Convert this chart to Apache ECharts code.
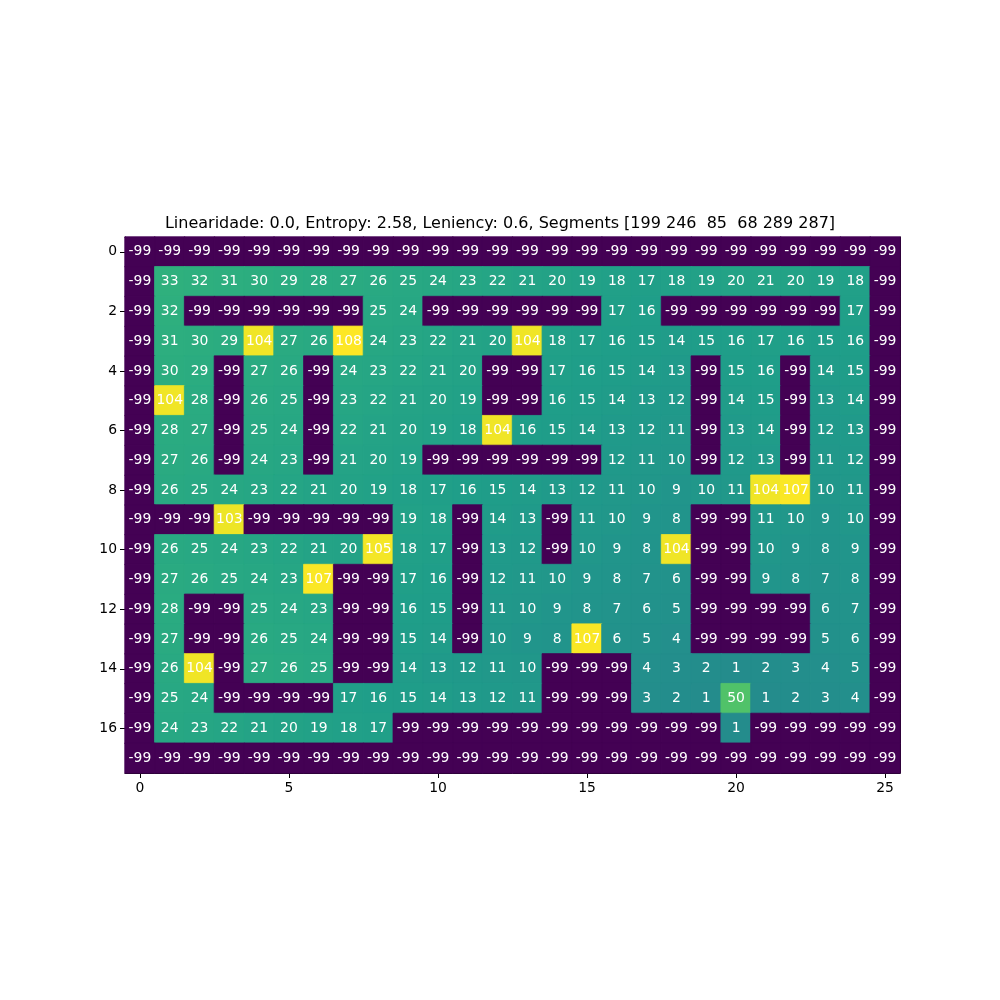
<!DOCTYPE html>
<html>
<head>
<meta charset="utf-8">
<script src="https://cdn.jsdelivr.net/npm/echarts@6/dist/echarts.min.js"></script>
<style>html,body{margin:0;padding:0;background:#fff}#c{width:1000px;height:1000px}</style>
</head>
<body>
<div id="c"></div>
<script>
const titleText = 'Linearidade: 0.0, Entropy: 2.58, Leniency: 0.6, Segments [199 246  85  68 289 287]';
const xCategories = Array.from({length: 26}, (_, i) => String(i));
const yCategories = Array.from({length: 18}, (_, i) => String(i));
const xTickStep = 5;
const yTickStep = 2;
const vMin = -99, vMax = 108;

const row00 = [-99,-99,-99,-99,-99,-99,-99,-99,-99,-99,-99,-99,-99,-99,-99,-99,-99,-99,-99,-99,-99,-99,-99,-99,-99,-99];
const row01 = [-99,33,32,31,30,29,28,27,26,25,24,23,22,21,20,19,18,17,18,19,20,21,20,19,18,-99];
const row02 = [-99,32,-99,-99,-99,-99,-99,-99,25,24,-99,-99,-99,-99,-99,-99,17,16,-99,-99,-99,-99,-99,-99,17,-99];
const row03 = [-99,31,30,29,104,27,26,108,24,23,22,21,20,104,18,17,16,15,14,15,16,17,16,15,16,-99];
const row04 = [-99,30,29,-99,27,26,-99,24,23,22,21,20,-99,-99,17,16,15,14,13,-99,15,16,-99,14,15,-99];
const row05 = [-99,104,28,-99,26,25,-99,23,22,21,20,19,-99,-99,16,15,14,13,12,-99,14,15,-99,13,14,-99];
const row06 = [-99,28,27,-99,25,24,-99,22,21,20,19,18,104,16,15,14,13,12,11,-99,13,14,-99,12,13,-99];
const row07 = [-99,27,26,-99,24,23,-99,21,20,19,-99,-99,-99,-99,-99,-99,12,11,10,-99,12,13,-99,11,12,-99];
const row08 = [-99,26,25,24,23,22,21,20,19,18,17,16,15,14,13,12,11,10,9,10,11,104,107,10,11,-99];
const row09 = [-99,-99,-99,103,-99,-99,-99,-99,-99,19,18,-99,14,13,-99,11,10,9,8,-99,-99,11,10,9,10,-99];
const row10 = [-99,26,25,24,23,22,21,20,105,18,17,-99,13,12,-99,10,9,8,104,-99,-99,10,9,8,9,-99];
const row11 = [-99,27,26,25,24,23,107,-99,-99,17,16,-99,12,11,10,9,8,7,6,-99,-99,9,8,7,8,-99];
const row12 = [-99,28,-99,-99,25,24,23,-99,-99,16,15,-99,11,10,9,8,7,6,5,-99,-99,-99,-99,6,7,-99];
const row13 = [-99,27,-99,-99,26,25,24,-99,-99,15,14,-99,10,9,8,107,6,5,4,-99,-99,-99,-99,5,6,-99];
const row14 = [-99,26,104,-99,27,26,25,-99,-99,14,13,12,11,10,-99,-99,-99,4,3,2,1,2,3,4,5,-99];
const row15 = [-99,25,24,-99,-99,-99,-99,17,16,15,14,13,12,11,-99,-99,-99,3,2,1,50,1,2,3,4,-99];
const row16 = [-99,24,23,22,21,20,19,18,17,-99,-99,-99,-99,-99,-99,-99,-99,-99,-99,-99,1,-99,-99,-99,-99,-99];
const row17 = [-99,-99,-99,-99,-99,-99,-99,-99,-99,-99,-99,-99,-99,-99,-99,-99,-99,-99,-99,-99,-99,-99,-99,-99,-99,-99];

const rows = [row00,row01,row02,row03,row04,row05,row06,row07,row08,row09,row10,row11,row12,row13,row14,row15,row16,row17];

const viridis = ['#440154','#482878','#3e4989','#31688e','#26828e','#1f9e89','#35b779','#6ece58','#b5de2b','#fde725'];
function colorFor(v) {
  const t = Math.max(0, Math.min(1, (v - vMin) / (vMax - vMin)));
  const pos = t * (viridis.length - 1);
  const i = Math.min(Math.floor(pos), viridis.length - 2);
  const f = pos - i;
  const a = viridis[i], b = viridis[i + 1];
  const ch = (h, k) => parseInt(h.substr(1 + 2 * k, 2), 16);
  const c = [0, 1, 2].map(k => Math.round(ch(a, k) + (ch(b, k) - ch(a, k)) * f));
  return 'rgb(' + c.join(',') + ')';
}

const data = [];
rows.forEach((r, y) => r.forEach((v, x) => {
  const col = colorFor(v);
  data.push({value: [x, y, v], itemStyle: {color: col, borderColor: col, borderWidth: 0.8}});
}));

const FONT = 'DejaVu Sans';

const chart = echarts.init(document.getElementById('c'), null, {renderer: 'canvas'});
chart.setOption({
  backgroundColor: '#ffffff',
  animation: false,
  title: {
    text: titleText,
    left: 'center',
    top: 211,
    textStyle: {fontFamily: FONT, fontSize: 16, fontWeight: 'normal', color: '#000'}
  },
  grid: {left: 125, right: 100, top: 237, bottom: 227, containLabel: false},
  xAxis: [{
    type: 'category',
    data: xCategories,
    position: 'bottom',
    axisLine: {show: true, onZero: false, lineStyle: {color: '#000', width: 1}},
    axisTick: {show: true, alignWithLabel: true, length: 5, interval: (i) => i % xTickStep === 0, lineStyle: {color: '#000'}},
    axisLabel: {show: true, interval: (i) => i % xTickStep === 0, margin: 8, fontFamily: FONT, fontSize: 13.9, color: '#000'},
    splitLine: {show: false}
  }, {
    type: 'category',
    data: xCategories,
    position: 'top',
    axisLine: {show: true, onZero: false, lineStyle: {color: '#000', width: 1}},
    axisTick: {show: false},
    axisLabel: {show: false},
    splitLine: {show: false}
  }],
  yAxis: [{
    type: 'category',
    data: yCategories,
    inverse: true,
    position: 'left',
    axisLine: {show: true, onZero: false, lineStyle: {color: '#000', width: 1}},
    axisTick: {show: true, alignWithLabel: true, length: 5, interval: (i) => i % yTickStep === 0, lineStyle: {color: '#000'}},
    axisLabel: {show: true, interval: (i) => i % yTickStep === 0, margin: 8, fontFamily: FONT, fontSize: 13.9, color: '#000'},
    splitLine: {show: false}
  }, {
    type: 'category',
    data: yCategories,
    inverse: true,
    position: 'right',
    axisLine: {show: true, onZero: false, lineStyle: {color: '#000', width: 1}},
    axisTick: {show: false},
    axisLabel: {show: false},
    splitLine: {show: false}
  }],
  series: [{
    type: 'heatmap',
    xAxisIndex: 0,
    yAxisIndex: 0,
    data: data,
    z: 1,
    label: {
      show: true,
      color: '#fff',
      fontFamily: FONT,
      fontSize: 13.9,
      formatter: (p) => String(p.value[2])
    },
    emphasis: {disabled: true}
  }]
});
</script>
</body>
</html>
